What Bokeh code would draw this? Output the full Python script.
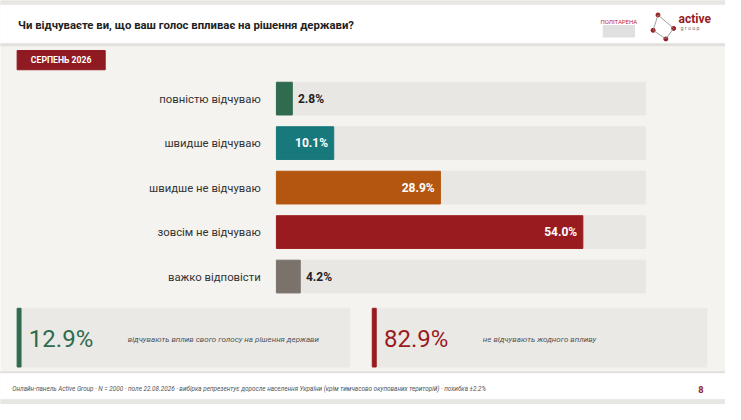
from bokeh.plotting import figure
from bokeh.models import Range1d, ColumnDataSource
from bokeh.core.properties import value
from bokeh.embed import file_html
from bokeh.resources import INLINE

title = "Чи відчуваєте ви, що ваш голос впливає на рішення держави?"
period = "СЕРПЕНЬ 2026"
categories = ["повністю відчуваю", "швидше відчуваю", "швидше не відчуваю", "зовсім не відчуваю", "важко відповісти"]
values = [2.8, 10.1, 28.9, 54.0, 4.2]
colors = ["#2f6b4e", "#17797c", "#b4560f", "#9a1b1f", "#7b726c"]
summary_values = ["12.9%", "82.9%"]
summary_texts = ["відчувають вплив свого голосу на рішення держави", "не відчувають жодного впливу"]
footer = "Онлайн-панель Active Group · N = 2000 · поле 22.08.2026 · вибірка репрезентує доросле населення України (крім тимчасово окупованих територій) · похибка ±2.2%"
page = "8"
track_max = 65.0

F = value("Roboto")
p = figure(width=725, height=404, x_range=Range1d(0, 741), y_range=Range1d(420, 0),
           output_backend="svg", toolbar_location=None, min_border=0)
p.axis.visible = False
p.grid.visible = False
p.outline_line_color = None
p.background_fill_color = "#f4f3f0"
p.border_fill_color = "#f4f3f0"

# header / footer bands
p.quad(left=0, right=741, top=0, bottom=5, color="#e8e6e3")
p.quad(left=0, right=741, top=5, bottom=45, color="white")
p.quad(left=0, right=741, top=45, bottom=47, color="#e2e0dc")
p.quad(left=0, right=741, top=386, bottom=388, color="#e2e0dc")
p.quad(left=0, right=741, top=388, bottom=415, color="white")
p.quad(left=0, right=741, top=415, bottom=420, color="#e8e6e3")
p.text(x=[18], y=[25], text=[title], text_font=F, text_font_size="8.5pt", text_font_style="bold",
       text_color="#222222", text_baseline="middle")
# logos (simplified)
p.text(x=[632], y=[22], text=["ПОЛІТАРЕНА"], text_font=F, text_font_size="4.5pt", text_color="#c0272d",
       text_align="center", text_baseline="middle")
p.quad(left=616, right=648, top=26, bottom=38, color="#e0e0e0")
p.text(x=[693], y=[19], text=["active"], text_font=F, text_font_size="9pt", text_font_style="bold",
       text_color="#9a1b1f", text_baseline="middle")
p.text(x=[695], y=[29], text=["g r o u p"], text_font=F, text_font_size="4pt", text_color="#777777",
       text_baseline="middle")
p.scatter(x=[672, 688, 680, 667], y=[15, 29, 40, 31], size=4, color="#9a1b1f")
p.line(x=[672, 688, 680, 667, 672], y=[15, 29, 40, 31, 15], line_color="#888888", line_width=0.8)

# badge
p.quad(left=17, right=107, top=52, bottom=72, color="#8f1a22")
p.text(x=[62], y=[62], text=[period], text_font=F, text_font_size="6.5pt", text_font_style="bold",
       text_color="white", text_align="center", text_baseline="middle")

# bars through a percentage range
scale = 5.8
p.extra_x_ranges = {"pct": Range1d((0 - 282) / scale, (741 - 282) / scale)}
ys = [102 + 46.25 * i for i in range(len(categories))]
src = ColumnDataSource(dict(y=ys, v=values, c=colors, cat=categories, tm=[track_max] * len(values)))
p.hbar(y="y", left=0, right="tm", height=34, color="#e9e7e4", source=src, x_range_name="pct")
p.hbar(y="y", left=0, right="v", height=34, color="c", source=src, x_range_name="pct")
p.text(x=266, y="y", text="cat", source=src, text_font=F, text_font_size="8.5pt", text_color="#333333",
       text_align="right", text_baseline="middle")
inside = [v > 8 for v in values]
si = ColumnDataSource(dict(y=[y for y, k in zip(ys, inside) if k], v=[v - 1.0 for v, k in zip(values, inside) if k],
                           lab=[f"{v:.1f}%" for v, k in zip(values, inside) if k]))
so = ColumnDataSource(dict(y=[y for y, k in zip(ys, inside) if not k], v=[v + 1.0 for v, k in zip(values, inside) if not k],
                           lab=[f"{v:.1f}%" for v, k in zip(values, inside) if not k]))
p.text(x="v", y="y", text="lab", source=si, x_range_name="pct", text_font=F, text_font_size="9pt",
       text_font_style="bold", text_color="white", text_align="right", text_baseline="middle")
p.text(x="v", y="y", text="lab", source=so, x_range_name="pct", text_font=F, text_font_size="9pt",
       text_font_style="bold", text_color="#222222", text_align="left", text_baseline="middle")

# summary boxes
boxes = [(17, 357, "#2f6b4e"), (380, 722, "#9a1b1f")]
for (l, r, c), sv, st in zip(boxes, summary_values, summary_texts):
    p.quad(left=l, right=r, top=320, bottom=381, color="#ebe9e6")
    p.quad(left=l, right=l + 4, top=320, bottom=381, color=c)
    p.text(x=[l + 12], y=[352], text=[sv], text_font=F, text_font_size="18pt", text_color=c,
           text_baseline="middle")
    p.text(x=[l + 113], y=[352], text=[st], text_font=F, text_font_size="6pt", text_font_style="italic",
           text_color="#555555", text_baseline="middle")

p.text(x=[12], y=[404], text=[footer], text_font=F, text_font_size="4.8pt", text_font_style="italic",
       text_color="#555555", text_baseline="middle")
p.text(x=[716], y=[404], text=[page], text_font=F, text_font_size="7pt", text_font_style="bold",
       text_color="#9a1b1f", text_baseline="middle", text_align="center")

open("out.html", "w").write(file_html(p, INLINE))
